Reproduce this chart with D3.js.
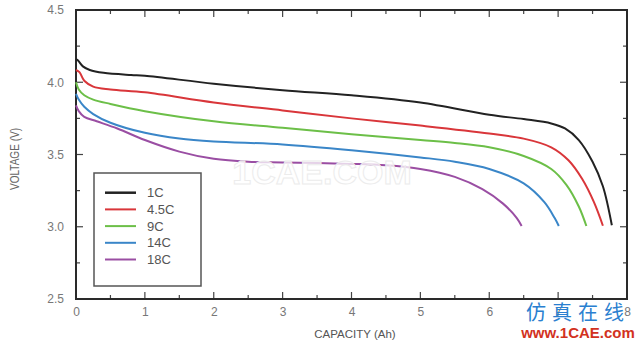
<!DOCTYPE html>
<html><head><meta charset="utf-8">
<script src="https://cdn.jsdelivr.net/npm/d3@7"></script>
<style>html,body{margin:0;padding:0;background:#fff;}svg{display:block;font-family:"Liberation Sans",Arial,sans-serif;}</style>
</head><body>
<svg id="c" width="640" height="341"></svg>
<script>
const seriesNames = ["1C","4.5C","9C","14C","18C"];
const seriesColors = ["#222222","#d9363a","#6cbf48","#3a86c8","#9a4ea3"];
const xTicks = [0,1,2,3,4,5,6,7,8];
const yTicks = [2.5,3.0,3.5,4.0,4.5];
const yTickLabels = ["2.5","3.0","3.5","4.0","4.5"];
const cap1C  = [0,0.03,0.1,0.2,0.4,0.8,1,2,3,4,5,6,6.5,6.9,7.1,7.3,7.5,7.65,7.78];
const v1C    = [4.16,4.15,4.11,4.085,4.065,4.05,4.045,3.99,3.945,3.91,3.86,3.775,3.745,3.715,3.68,3.6,3.45,3.28,3.01];
const cap45C = [0,0.05,0.12,0.25,0.5,1,2,3,4,5,6,6.5,6.9,7.15,7.35,7.52,7.65];
const v45C   = [4.085,4.07,4.01,3.97,3.95,3.93,3.86,3.805,3.75,3.70,3.645,3.61,3.55,3.46,3.33,3.17,3.007];
const cap9C  = [0,0.04,0.12,0.25,0.5,1,2,3,4,5,5.5,6,6.5,6.9,7.12,7.3,7.41];
const v9C    = [4.0,3.95,3.91,3.88,3.85,3.8,3.73,3.685,3.64,3.60,3.58,3.55,3.49,3.40,3.29,3.14,3.005];
const cap14C = [0,0.04,0.12,0.25,0.5,1,1.5,2,3,4,5,5.5,6,6.5,6.8,6.95,7.01];
const v14C   = [3.92,3.88,3.83,3.78,3.72,3.65,3.61,3.59,3.57,3.53,3.48,3.45,3.40,3.30,3.17,3.06,3.005];
const cap18C = [0,0.04,0.12,0.3,0.6,1,1.5,2,2.5,3,4,4.5,5,5.5,5.9,6.2,6.4,6.47];
const v18C   = [3.84,3.80,3.76,3.73,3.68,3.60,3.52,3.47,3.45,3.445,3.435,3.425,3.40,3.345,3.26,3.16,3.06,3.005];
const capacities = [cap1C,cap45C,cap9C,cap14C,cap18C];
const voltages = [v1C,v45C,v9C,v14C,v18C];

const svg = d3.select("#c");
const L=76,R=627,T=10,B=299;
const x = d3.scaleLinear().domain([0,8]).range([L,R]);
const y = d3.scaleLinear().domain([2.5,4.5]).range([B,T]);

// minor + major ticks (inside)
const g = svg.append("g");
const tickCol="#444";
d3.range(0,8.01,0.5).forEach(t=>{
  const major = Math.abs(t-Math.round(t))<1e-6;
  const len = major?7:4;
  if(t>0 && t<8){
    g.append("line").attr("x1",x(t)).attr("x2",x(t)).attr("y1",B).attr("y2",B-len).attr("stroke",tickCol).attr("stroke-width",1.2);
    g.append("line").attr("x1",x(t)).attr("x2",x(t)).attr("y1",T).attr("y2",T+len).attr("stroke",tickCol).attr("stroke-width",1.2);
  }
});
d3.range(2.5,4.501,0.25).forEach(t=>{
  const major = Math.abs(t*2-Math.round(t*2))<1e-6;
  const len = major?7:4;
  if(t>2.5 && t<4.5){
    g.append("line").attr("y1",y(t)).attr("y2",y(t)).attr("x1",L).attr("x2",L+len).attr("stroke",tickCol).attr("stroke-width",1.2);
    g.append("line").attr("y1",y(t)).attr("y2",y(t)).attr("x1",R).attr("x2",R-len).attr("stroke",tickCol).attr("stroke-width",1.2);
  }
});

// frame
svg.append("rect").attr("x",L).attr("y",T).attr("width",R-L).attr("height",B-T)
  .attr("fill","none").attr("stroke","#2a2a2a").attr("stroke-width",2);

// axes labels via d3 axes (tick lines hidden)
const xAxis = svg.append("g").attr("transform",`translate(0,${B})`)
  .call(d3.axisBottom(x).tickValues(xTicks).tickSize(0).tickPadding(8).tickFormat(d3.format("d")));
xAxis.select(".domain").remove();
xAxis.selectAll("text").attr("font-size",12).attr("fill","#777").attr("font-family","Liberation Sans, Arial");
const yAxis = svg.append("g").attr("transform",`translate(${L},0)`)
  .call(d3.axisLeft(y).tickValues(yTicks).tickSize(0).tickPadding(12).tickFormat((d,i)=>yTickLabels[i]));
yAxis.select(".domain").remove();
yAxis.selectAll("text").attr("font-size",12).attr("fill","#777").attr("font-family","Liberation Sans, Arial");

svg.append("text").attr("x",355).attr("y",338).attr("text-anchor","middle")
  .attr("font-size",11.5).attr("fill","#555").text("CAPACITY (Ah)");
svg.append("text").attr("transform","translate(19,159) rotate(-90)").attr("text-anchor","middle")
  .attr("font-size",12).attr("fill","#666").attr("textLength",62).attr("lengthAdjust","spacingAndGlyphs").text("VOLTAGE (V)");

// lines
const line = d3.line().x(d=>x(d[0])).y(d=>y(d[1])).curve(d3.curveCatmullRom.alpha(0.5));
seriesNames.forEach((n,i)=>{
  const pts = capacities[i].map((c,j)=>[c,voltages[i][j]]);
  svg.append("path").datum(pts).attr("d",line).attr("fill","none")
    .attr("stroke",seriesColors[i]).attr("stroke-width",2).attr("stroke-linejoin","round");
});

// watermark middle
svg.append("text").attr("x",322).attr("y",184).attr("text-anchor","middle")
  .attr("font-size",34).attr("font-weight","bold").attr("fill","#ffffff").attr("fill-opacity",0.75)
  .attr("stroke","#ececec").attr("stroke-width",1).text("1CAE.COM");

// legend
const lg = svg.append("g");
lg.append("rect").attr("x",94).attr("y",173).attr("width",107).attr("height",113)
  .attr("fill","#fff").attr("stroke","#555").attr("stroke-width",1.5);
seriesNames.forEach((n,i)=>{
  const yy = 192.7 + i*16.7;
  lg.append("line").attr("x1",105).attr("x2",136).attr("y1",yy).attr("y2",yy)
    .attr("stroke",seriesColors[i]).attr("stroke-width",i==0?2.5:2);
  lg.append("text").attr("x",147).attr("y",yy+4.5).attr("font-size",13).attr("fill","#555").text(n);
});

// bottom-right watermark
svg.append("text").attr("x",578).attr("y",320).attr("text-anchor","middle")
  .attr("font-family","Noto Sans CJK SC").attr("font-size",20).attr("fill","#2a7fd0")
  .attr("letter-spacing",6).text("仿真在线");
svg.append("text").attr("x",578).attr("y",338).attr("text-anchor","middle")
  .attr("font-size",15).attr("font-weight","bold").attr("fill","#d2321e").text("www.1CAE.com");
</script>
</body></html>
